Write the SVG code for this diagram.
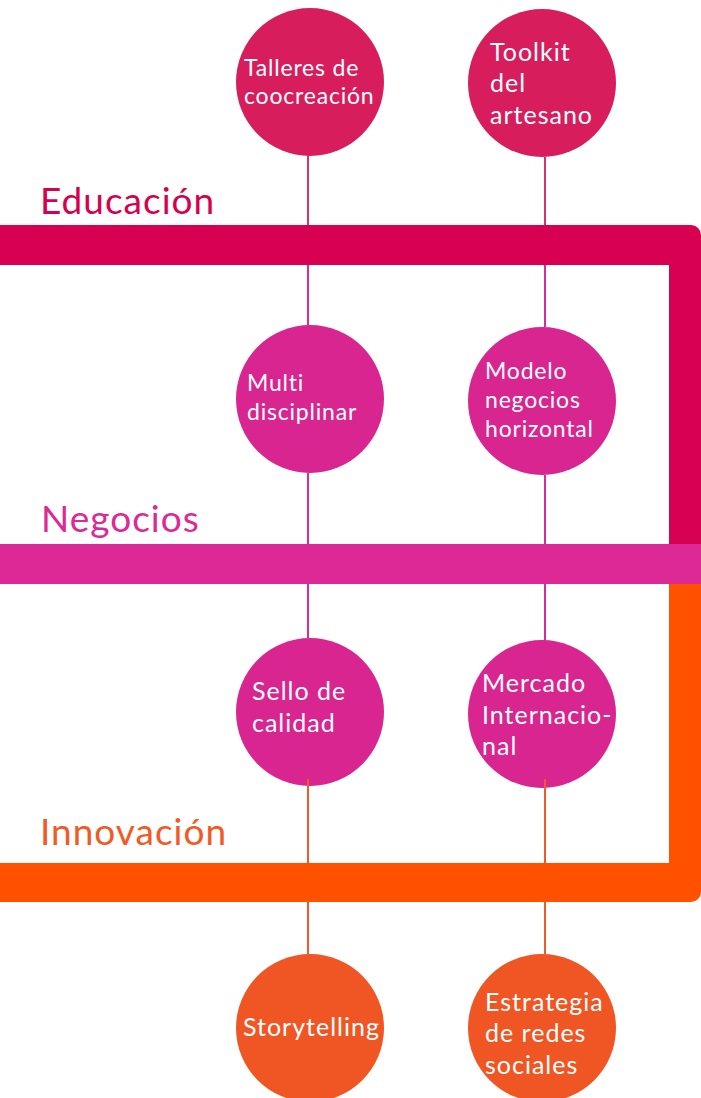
<svg xmlns="http://www.w3.org/2000/svg" width="701" height="1098" viewBox="0 0 701 1098">
<style>
.lbl{font-family:Lato,"Liberation Sans",sans-serif;font-size:37px;letter-spacing:1px}
.t{font-family:Lato,"Liberation Sans",sans-serif;fill:#ffffff}
.s23{font-size:23px;letter-spacing:0.8px}
.s25{font-size:25px;letter-spacing:1px}
.c1{fill:#d81d5c}
.c2{fill:#d92590}
.c3{fill:#f05624}
.l1{stroke:#d6336b;stroke-width:2;fill:none}
.l2{stroke:#db2b96;stroke-width:2;fill:none}
.l3{stroke:#f05a28;stroke-width:2;fill:none}
</style>
<rect width="701" height="1098" fill="#ffffff"/>
<g id="bands">
<path id="band-educacion" d="M0,225 H691 A10,10 0 0 1 701,235 V544 H669 V265 H0 Z" fill="#d80051"/>
<path id="band-innovacion" d="M669,584 H701 V892 A10,10 0 0 1 691,902 H0 V863 H669 Z" fill="#ff5100"/>
<rect id="band-negocios" x="0" y="544" width="701" height="40" fill="#dc2995"/>
</g>
<g id="labels">
<text class="lbl" x="40" y="214" fill="#d6004f">Educación</text>
<text class="lbl" x="41" y="532" fill="#dc2995">Negocios</text>
<text class="lbl" x="40" y="845" fill="#f15a24">Innovación</text>
</g>
<g id="node-talleres">
<circle class="c1" cx="310" cy="82" r="74"/>
<text class="t s23" x="244" y="76">Talleres de</text>
<text class="t s23" x="244" y="104">coocreación</text>
</g>
<g id="node-toolkit">
<circle class="c1" cx="542" cy="83" r="74"/>
<text class="t s25" x="490" y="61">Toolkit</text>
<text class="t s25" x="490" y="92">del</text>
<text class="t s25" x="490" y="124">artesano</text>
</g>
<g id="node-multi">
<circle class="c2" cx="310" cy="399" r="74"/>
<text class="t s23" x="247" y="391">Multi</text>
<text class="t s23" x="247" y="420">disciplinar</text>
</g>
<g id="node-modelo">
<circle class="c2" cx="542" cy="401" r="74"/>
<text class="t s23" x="485" y="379">Modelo</text>
<text class="t s23" x="485" y="408">negocios</text>
<text class="t s23" x="485" y="437">horizontal</text>
</g>
<g id="node-sello">
<circle class="c2" cx="310" cy="712" r="74"/>
<text class="t s25" x="252" y="700">Sello de</text>
<text class="t s25" x="252" y="732">calidad</text>
</g>
<g id="node-mercado">
<circle class="c2" cx="542" cy="714" r="74"/>
<text class="t s25" x="482" y="692">Mercado</text>
<text class="t s25" x="482" y="724">Internacio-</text>
<text class="t s25" x="482" y="755">nal</text>
</g>
<g id="node-storytelling">
<circle class="c3" cx="310" cy="1028" r="74"/>
<text class="t s25" x="243" y="1036">Storytelling</text>
</g>
<g id="node-estrategia">
<circle class="c3" cx="542" cy="1028" r="74"/>
<text class="t s25" x="485" y="1011">Estrategia</text>
<text class="t s25" x="485" y="1042">de redes</text>
<text class="t s25" x="485" y="1074">sociales</text>
</g>
<g id="connectors">
<line class="l1" x1="308" y1="155" x2="308" y2="225"/>
<line class="l2" x1="308" y1="265" x2="308" y2="325"/>
<line class="l2" x1="308" y1="473" x2="308" y2="544"/>
<line class="l2" x1="308" y1="584" x2="308" y2="638"/>
<line class="l3" x1="308" y1="779" x2="308" y2="863"/>
<line class="l3" x1="308" y1="902" x2="308" y2="954"/>
<line class="l1" x1="545" y1="157" x2="545" y2="225"/>
<line class="l2" x1="545" y1="265" x2="545" y2="327"/>
<line class="l2" x1="545" y1="475" x2="545" y2="544"/>
<line class="l2" x1="545" y1="584" x2="545" y2="641"/>
<line class="l3" x1="545" y1="779" x2="545" y2="863"/>
<line class="l3" x1="545" y1="902" x2="545" y2="954"/>
</g>
</svg>
